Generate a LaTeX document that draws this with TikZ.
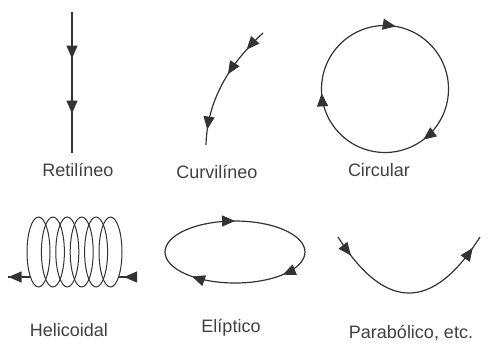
\documentclass[tikz,border=0pt]{standalone}
\usepackage{fontspec}
\setmainfont{Liberation Sans}
\usetikzlibrary{arrows.meta,decorations.markings}

\begin{document}
\begin{tikzpicture}[
    x=1pt, y=-1pt,
    trazo/.style={draw=black!80, line width=1.2pt},
    punta/.style={postaction={decorate, decoration={markings,
        mark=at position #1 with {\arrow{Triangle[length=13pt,width=11pt]}}}}},
    etiqueta/.style={font=\fontsize{18}{21}\selectfont, text=black!75}
]
\useasboundingbox (0,0) rectangle (490,349);

% rectilineo
\draw[trazo, punta=0.33, punta=0.72] (72,12) -- (72,153);
\node[etiqueta] (ret) at (78,170) {Retilíneo};

% curvilineo
\draw[trazo, punta=0.18, punta=0.42, punta=0.88]
    (263,33) .. controls (225,68) and (207,105) .. (206,145);
\node[etiqueta] (cur) at (217,172) {Curvilíneo};

% circular
\draw[trazo, punta=0.147, punta=0.489, punta=0.777] (385,89) circle (63.5);
\node[etiqueta] (cir) at (379,170) {Circular};

% helicoidal
\foreach \i in {0,...,5}
  \draw[trazo, line width=1pt] (38.5+14.4*\i,252) ellipse [x radius=11.5, y radius=35];
\draw[trazo, punta=-0.5pt] (30.5,277) -- (8,277);
\draw[trazo, punta=10pt] (134,277) -- (118.5,277);
\node[etiqueta] (hel) at (69,330) {Helicoidal};

% eliptico
\draw[trazo, punta=0.102, punta=0.383, punta=0.75]
    (235,252) ellipse [x radius=70, y radius=31];
\node[etiqueta] (eli) at (231,328) {Elíptico};

% parabolico
\draw[trazo, punta=0.12, punta=0.93]
    (338,237) .. controls (385.3,311.7) and (432.7,311.7) .. (480,237);
\node[etiqueta] (par) at (411,333) {Parabólico, etc.};
\end{tikzpicture}
\end{document}
